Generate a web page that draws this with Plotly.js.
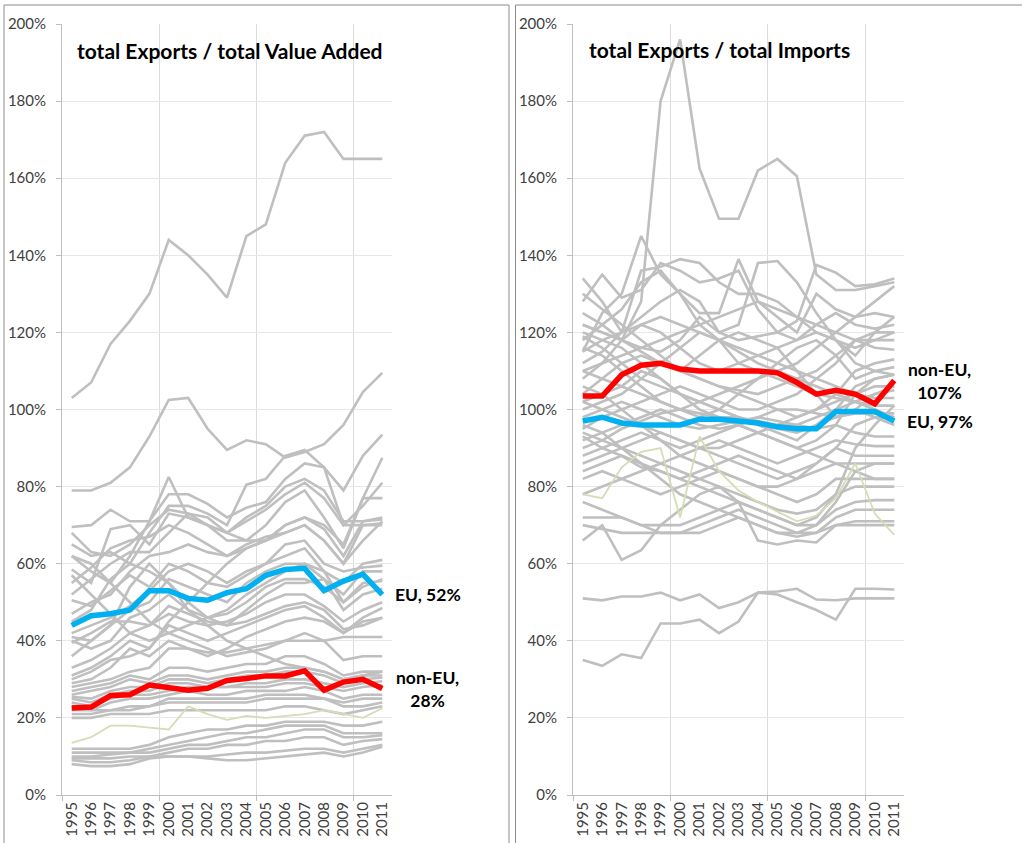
<!DOCTYPE html>
<html>
<head>
<meta charset="utf-8">
<script src="https://cdn.plot.ly/plotly-3.0.1.min.js"></script>
<style>
html,body{margin:0;padding:0;background:#fff;}
#chart{width:1022px;height:843px;}
</style>
</head>
<body>
<div id="chart"></div>
<script>
// ---------- DATA ----------
var years = [1995,1996,1997,1998,1999,2000,2001,2002,2003,2004,2005,2006,2007,2008,2009,2010,2011];

// Panel 1: total Exports / total Value Added (%)
var euVA    = [44,46.5,47,48,53,53,51,50.5,52.5,53.5,57,58.5,58.8,53,55.5,57.3,52];
var nonEuVA = [22.6,22.8,25.8,26,28.5,27.7,27.2,27.7,29.7,30.2,30.9,30.9,32.2,27.2,29.3,30,27.6];
var highlightVA = [13.5,15,18,18,17.5,17,23,21,19.5,20.5,20,20.5,21,22,21,20,22.5];
var countriesVA = [
  [103,107,117,123,130,144,140,135,129,145,148,164,171,172,165,165,165],
  [79,79,81,85,93,102.5,103,95,89.5,92,91,87.5,89,91,96,104.5,109.5],
  [69.5,70,74,71,71,78,78,75.5,72,74.5,76,82,86,85,70,70,70],
  [62,58,55,62,71,82.5,72,70,68,72,75,80,82,79,71,71,71.5],
  [65,62,63,60,68,75,75,73,70,80.5,82,88,89.5,85,79,88,93.5],
  [58.5,55,69,70,65,73,72,70,66,66,70,76,79,72,64,77,87.5],
  [68,63,62,65,70,74,73,70,68,71,74,78,81,77,70,75,81],
  [52,56,60,63,63,68,73,72,68,66,66,70,72,70,65,77,77],
  [55,59,64,66,67,70,68,65,62,64,66,70,72,69,62,71,72],
  [47,50,52,58,62,63,65,63,62,65,67,68,70,66,60,70,70.5],
  [42,44,46,49,53,58,60,58,55,58,60,62,64,58,55,60,61],
  [50.5,49,53,57,54,60,58,55,54,57,60,65,66,60,58,59,59.5],
  [41,40,44,48,50,56,54,52,50,55,58,60,60,56,52,58,58],
  [40,38,40,46,48,52,48,46,47,50,54,56,56,54,50,55,55.5],
  [39.5,42,45,45,44,49,47,45,44,48,52,55,55,56,48,52,53.5],
  [33,35,38,42,44,47,45,44,45,47,50,52,52,49,45,48,50],
  [31,33,36,40,38,44,42,40,42,44,46,48,49,46,42,46,48.5],
  [29,30,33,38,36,40,38,36,38,41,43,45,46,45,42,45,46],
  [28,29,30,32,33,38,38,37,37,38,39,40,40,40,41,41,41],
  [27,28,29,31,30,33,33,32,33,34,34,36,36,34,31,32,32],
  [26,27,28,30,29,31,31,30,31,32,32,33,33,32,30,31,31],
  [25.5,25,27,28,28,30,30,29,30,31,31,32,32,31,29,30,30.5],
  [25,24,26,27,27,29,29,28,28,29,29,30,30,29,28,29,29.5],
  [24,23,25,26,26,27,28,28,28,28,28,29,29,28,27,28,28.5],
  [23,22,24,25,25,26,27,26,26,27,27,27,28,27,25,26,26],
  [21,21,22,23,23,25,25,25,25,25,26,26,26,25,24,25,25],
  [22,22,22,22,23,24,24,24,24,24,25,25,25,25,23,23,24],
  [20,20,21,21,21,22,22,22,22,22,22,23,23,22,21,22,23],
  [12,12,12,12,13,15,16,17,17,18,18,19,19,19,18,18,19],
  [11,11,11,11,12,13,14,15,16,16,17,18,18,18,16,16,16],
  [10,10,10.5,11,11,12,13,13,14,15,15,16,17,17,15,15,15.5],
  [9.5,9.5,9.5,10,10,11,12,12,13,13,14,14,15,15,13,14,14.5],
  [9,8.5,8.5,9,10,10,10,9.5,9,9,9.5,10,10.5,11,10,11,12.5],
  [8,7.5,7.5,8,9.5,10,10,10,10.5,11,11,11.5,12,12,11,12,13],
  [57,52,47,42,40,42,44,46,48,52,55,58,60,58,50,54,56],
  [45,48,56,60,58,55,50,46,44,45,47,49,50,48,43,44,46],
  [36,40,44,54,60,55,48,44,40,38,36,34,33,32,30,31,32],
  [62,60,55,50,45,42,40,38,36,37,38,40,42,40,35,36,36],
  [30,32,35,36,38,45,50,55,60,64,66,68,70,66,60,66,71]
];

// Panel 2: total Exports / total Imports (%)
var euIM    = [97,98,96.5,96,96,96,97.5,97.5,97,96.5,95.5,95,95,99.5,99.5,99.5,97];
var nonEuIM = [103.5,103.5,109,111.5,112,110.5,110,110,110,110,109.5,107,104,105,104,101.5,107.5];
var highlightIM = [78,77,85,89,90,72,93,84,79,76,73.5,71,72.5,77,86,73,67.5];
var countriesIM = [
  [122,120,118,128,180,196,162.5,149.5,149.5,162,165,160.5,135,131,131,132,133],
  [115,125,130,145,135,130,122,118,112,110,108,106,104,103,102,104,105],
  [134,128,120,136,137,139,138,133,130,130,128,124,120,118,116,118,120],
  [128,135,129,131,138,136,133,134,136,126,120,118,122,125,122,121,122],
  [118,122,126,133,136,130,125,125,139,128,124,120,130,126,124,125,124],
  [112,115,120,124,128,131,128,120,122,138,138.5,133,125,118,112,110,109],
  [125,122,118,116,115,118,124,120,118,119,120,123,137.5,135.5,132,132.5,134],
  [108,112,118,122,120,116,112,110,112,114,116,118,120,118,114,120,124],
  [120,118,116,112,108,104,102,104,106,108,110,112,116,120,124,128,132],
  [130,126,122,118,114,110,108,106,104,102,100,98,100,104,110,112,113],
  [104,108,112,114,112,110,114,118,120,118,116,110,104,98,100,104,106],
  [116,114,110,106,102,100,98,100,104,108,112,116,118,114,108,110,111],
  [100,102,104,108,112,116,120,118,115,112,110,108,106,104,102,101,101],
  [95,98,100,102,104,106,104,102,100,100,102,104,108,112,118,116,115.5],
  [92,94,96,98,100,98,96,95,96,98,100,100,99,98,99,99,99],
  [98,100,102,100,98,96,95,96,97,98,97,96,98,100,102,100,98],
  [90,92,95,97,99,100,102,100,98,96,95,94,96,98,100,98,96],
  [88,90,92,94,92,90,92,94,96,94,92,90,92,96,94,93,93],
  [94,92,90,88,86,88,90,92,90,88,86,88,90,92,91,90.5,90.5],
  [86,88,90,92,94,92,90,88,86,84,82,84,86,90,88,88,88],
  [84,86,88,86,84,82,84,86,88,86,84,82,84,86,86,86,86],
  [82,84,82,80,78,80,82,84,82,80,78,76,78,82,82,82,82],
  [78,80,82,84,86,84,82,80,78,76,74,73,74,78,80,80,80],
  [76,74,72,70,70,70,72,74,76,74,72,70,70,74,76,76.5,76.5],
  [72,72,72,70,68,68,70,72,74,72,70,68,68,72,74,74,74],
  [66,70,61,63.5,70,74,78,80,76,66,65,66,65.5,70,71,71,71],
  [70,69,68,68,68,68,68,70,72,70,68,67,68,70,70,70,70],
  [110,112,114,116,118,120,122,124,126,128,126,124,122,120,118,118,118],
  [122,120,118,115,112,110,108,106,105,104,106,108,110,114,118,120,120],
  [115,118,120,122,124,122,120,118,116,114,112,110,108,106,104,103,103],
  [106,104,100,96,94,92,90,90,92,94,96,98,100,102,104,106,106],
  [102,100,98,96,92,88,86,84,82,80,80,82,86,90,96,98,98],
  [96,94,90,86,82,78,76,74,72,70,68,68,70,76,84,86,86],
  [93,90,88,85,84,82,80,78,76,74,72,70,72,78,90,96,101],
  [110,108,106,104,102,100,99,98,98,97,96,96,95,96,104,108,109],
  [119,116,112,108,106,104,102,100,98,96,94,92,96,100,106,108,109],
  [102,104,106,110,108,104,100,98,96,94,92,90,88,86,84,82,82],
  [51,50.5,51.5,51.5,52.5,50.5,52,48.5,50,52.5,52.8,53.5,50.7,50.5,51,51,51],
  [35,33.5,36.5,35.5,44.5,44.5,45.5,42,45,52.5,52,50,48,45.5,53.5,53.5,53.3]
];

var titleVA = 'total Exports / total Value Added';
var titleIM = 'total Exports / total Imports';

// ---------- STYLE ----------
var FONT = 'Lato, "Open Sans", "Liberation Sans", sans-serif';
var GRAY = '#bfbfbf';
var traces = [];
function addPanel(countries, hl, eu, nonEu, xa, ya) {
  countries.forEach(function (s) {
    traces.push({x: years, y: s, xaxis: xa, yaxis: ya, type: 'scatter', mode: 'lines',
      line: {color: GRAY, width: 2.6}, hoverinfo: 'skip', showlegend: false});
  });
  traces.push({x: years, y: hl, xaxis: xa, yaxis: ya, type: 'scatter', mode: 'lines',
    line: {color: '#d3ddb6', width: 1.8}, showlegend: false});
  traces.push({x: years, y: eu, xaxis: xa, yaxis: ya, type: 'scatter', mode: 'lines',
    line: {color: '#00b0f0', width: 5.5}, showlegend: false});
  traces.push({x: years, y: nonEu, xaxis: xa, yaxis: ya, type: 'scatter', mode: 'lines',
    line: {color: '#ff0000', width: 5.5}, showlegend: false});
}
addPanel(countriesVA, highlightVA, euVA, nonEuVA, 'x', 'y');
addPanel(countriesIM, highlightIM, euIM, nonEuIM, 'x2', 'y2');

var W = 1022, H = 843;
function px(v) { return v / W; }
function py(v) { return (H - v) / H; }

function xAxis(domain, anchor) {
  return {
    domain: domain, anchor: anchor, range: [1994.5, 2011.5],
    tickmode: 'array', tickvals: years, ticktext: years.map(String),
    tickangle: -90, ticks: '', showgrid: false, zeroline: false,
    showline: true, linecolor: '#bfbfbf', linewidth: 1,
    tickfont: {family: FONT, size: 15, color: '#404040'},
    minor: {tickmode: 'array', tickvals: [1994.5, 1999.5, 2004.5, 2009.5],
      showgrid: true, gridcolor: '#dcdcdc', gridwidth: 1,
      ticks: 'outside', ticklen: 5, tickcolor: '#bfbfbf'},
    fixedrange: true
  };
}
function yAxis(domain, anchor) {
  return {
    domain: domain, anchor: anchor, range: [0, 200], dtick: 20, tick0: 0,
    ticksuffix: '%', showgrid: true, gridcolor: '#e8e8e8', gridwidth: 1,
    zeroline: false, showline: true, linecolor: '#bfbfbf', linewidth: 1,
    ticks: 'outside', ticklen: 5, tickcolor: '#bfbfbf', ticklabelstandoff: 7,
    tickfont: {family: FONT, size: 15, color: '#404040'},
    fixedrange: true
  };
}

var yDom = [py(795), py(24)];
var layout = {
  width: W, height: H,
  margin: {l: 0, r: 0, t: 0, b: 0},
  paper_bgcolor: '#ffffff', plot_bgcolor: 'rgba(0,0,0,0)',
  showlegend: false,
  xaxis: xAxis([px(62), px(392)], 'y'),
  yaxis: yAxis(yDom, 'x'),
  xaxis2: xAxis([px(573), px(904)], 'y2'),
  yaxis2: yAxis(yDom, 'x2'),
  shapes: [
    {type: 'rect', xref: 'paper', yref: 'paper', x0: px(4), x1: px(509), y0: -0.05, y1: py(5),
      line: {color: '#8c8c8c', width: 1}, layer: 'below'},
    {type: 'rect', xref: 'paper', yref: 'paper', x0: px(515.5), x1: 1.05, y0: -0.05, y1: py(5),
      line: {color: '#8c8c8c', width: 1}, layer: 'below'}
  ],
  annotations: [
    {text: '<b>' + titleVA + '</b>', xref: 'paper', yref: 'paper', x: px(75), y: py(50),
      xanchor: 'left', yanchor: 'middle', showarrow: false,
      font: {family: FONT, size: 21, color: '#000000'}},
    {text: '<b>' + titleIM + '</b>', xref: 'paper', yref: 'paper', x: px(587), y: py(49),
      xanchor: 'left', yanchor: 'middle', showarrow: false,
      font: {family: FONT, size: 21, color: '#000000'}},
    {text: '<b>EU, 52%</b>', xref: 'x', yref: 'y', x: 2011, y: euVA[16],
      xanchor: 'left', yanchor: 'middle', xshift: 11, showarrow: false,
      font: {family: FONT, size: 17.5, color: '#000000'}},
    {text: '<b>non-EU,<br>28%</b>', xref: 'x', yref: 'y', x: 2011, y: nonEuVA[16],
      xanchor: 'left', yanchor: 'middle', xshift: 12, align: 'center', showarrow: false,
      font: {family: FONT, size: 17.5, color: '#000000'}},
    {text: '<b>non-EU,<br>107%</b>', xref: 'x2', yref: 'y2', x: 2011, y: nonEuIM[16],
      xanchor: 'left', yanchor: 'middle', xshift: 12, align: 'center', showarrow: false,
      font: {family: FONT, size: 17.5, color: '#000000'}},
    {text: '<b>EU, 97%</b>', xref: 'x2', yref: 'y2', x: 2011, y: euIM[16],
      xanchor: 'left', yanchor: 'middle', xshift: 11, showarrow: false,
      font: {family: FONT, size: 17.5, color: '#000000'}}
  ]
};

Plotly.newPlot('chart', traces, layout, {displayModeBar: false, staticPlot: true});
</script>
</body>
</html>
